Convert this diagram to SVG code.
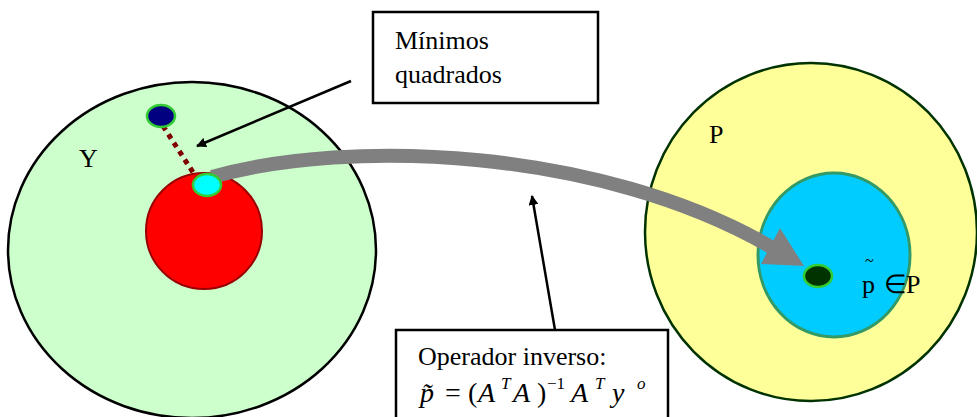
<svg xmlns="http://www.w3.org/2000/svg" width="977" height="417" viewBox="0 0 977 417">
<style>
.t{font-family:"Liberation Serif","Times New Roman",serif;fill:#000}
.lab{font-size:26px}
.m{font-size:28px}
.i{font-style:italic}
.sup{font-size:17px}
.box{fill:#fff;stroke:#000;stroke-width:2.5}
.dot{stroke:#33cc33;stroke-width:2.5}
</style>
<defs>
<marker id="ah" markerWidth="10" markerHeight="10" refX="9" refY="5" orient="auto" markerUnits="userSpaceOnUse" viewBox="0 0 10 10">
<path d="M0,0 L10,5 L0,10 z" fill="#000"/>
</marker>
</defs>
<g id="setY">
<ellipse cx="192" cy="250" rx="184" ry="168" fill="#ccffcc" stroke="#000" stroke-width="2.5"/>
<text class="t lab" x="79" y="167">Y</text>
</g>
<g id="setP">
<ellipse cx="811" cy="232" rx="166" ry="169" fill="#ffff99" stroke="#003300" stroke-width="2.5"/>
<text class="t lab" x="709" y="143">P</text>
</g>
<g id="subP">
<ellipse cx="834" cy="255" rx="76" ry="82" fill="#00ccff" stroke="#339966" stroke-width="3"/>
</g>
<g id="image">
<circle cx="204" cy="231" r="58" fill="#ff0000" stroke="#990000" stroke-width="2"/>
</g>
<g id="connectors">
<line x1="163" y1="126" x2="196" y2="177" stroke="#800000" stroke-width="5" stroke-dasharray="5 5"/>
<path d="M212,177 C350,138 600,148 771,247" fill="none" stroke="#808080" stroke-width="14"/>
<polygon points="780,228 761,264 804,266" fill="#808080"/>
<line x1="351" y1="81" x2="197" y2="146" stroke="#000" stroke-width="2.5" marker-end="url(#ah)"/>
<line x1="555" y1="330" x2="532" y2="196" stroke="#000" stroke-width="2.5" marker-end="url(#ah)"/>
</g>
<g id="yobs">
<ellipse class="dot" cx="161" cy="116" rx="14" ry="11" fill="#000080"/>
</g>
<g id="ymin">
<ellipse class="dot" cx="207" cy="185" rx="14" ry="11" fill="#00ffff"/>
</g>
<g id="pest">
<ellipse class="dot" cx="818" cy="276" rx="14" ry="11" fill="#003300"/>
<text class="t" x="865" y="266" font-size="16">~</text>
<text class="t" y="293" font-size="26"><tspan x="862">p</tspan><tspan x="884">∈</tspan><tspan x="906">P</tspan></text>
</g>
<g id="boxMinimos">
<rect class="box" x="373" y="12" width="225" height="91"/>
<text class="t lab" x="395" y="49">Mínimos</text>
<text class="t lab" x="395" y="83">quadrados</text>
</g>
<g id="boxOperador">
<rect class="box" x="396" y="330" width="272" height="100"/>
<text class="t lab" x="418" y="365">Operador inverso:</text>
<text class="t m" x="420" y="402"><tspan class="i">p̃</tspan><tspan x="445">=</tspan><tspan x="468">(</tspan><tspan x="478" class="i">A</tspan><tspan x="501" y="389" class="sup i">T</tspan><tspan x="513" y="402" class="i">A</tspan><tspan x="537">)</tspan><tspan x="547" y="389" class="sup">−1</tspan><tspan x="571" y="402" class="i">A</tspan><tspan x="595" y="389" class="sup i">T</tspan><tspan x="612" y="402" class="i">y</tspan><tspan x="637" y="389" class="sup i">o</tspan></text>
</g>
</svg>
